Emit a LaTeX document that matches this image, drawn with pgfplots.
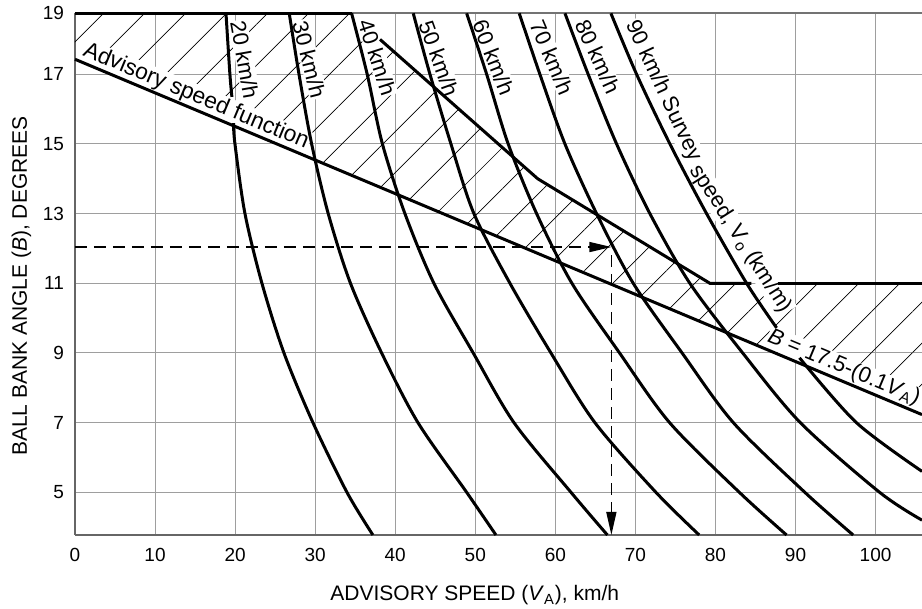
\documentclass[border=0pt]{standalone}
\usepackage{fontspec}
\setmainfont{Liberation Sans}
\usepackage{pgfplots}
\pgfplotsset{compat=1.18}
\usetikzlibrary{patterns.meta,arrows.meta}

\pgfplotsset{
  curve/.style={black, line width=1.5pt, smooth, no markers},
  edge/.style={black, line width=1.5pt, no markers},
}
\tikzset{
  lab/.style={fill=white, inner sep=0.6pt, font=\fontsize{11}{12}\selectfont},
}

\begin{document}
\begin{tikzpicture}
\useasboundingbox (-37.5pt,-37pt) rectangle (423.5pt,267.5pt);
\begin{axis}[
    scale only axis,
    width=423.5pt, height=260.85pt,
    xmin=0, xmax=105.8,
    ymin=3.774, ymax=18.75,
    xtick={0,10,...,100},
    ytick={5,7,9,11,13,15,17,18.75},
    yticklabels={5,7,9,11,13,15,17,19},
    grid=major,
    grid style={draw=black!38, line width=0.5pt},
    major tick length=0pt,
    axis x line*=bottom, axis y line*=left,
    axis line style={draw=black!60, line width=0.9pt},
    tick label style={font=\fontsize{9.5}{11}\selectfont},
    /pgf/number format/assume math mode=true,
    xticklabel style={anchor=base, yshift=-13.4pt},
    yticklabel style={xshift=-2pt},
    xlabel={ADVISORY SPEED (\textit{V}\textsubscript{A}), km/h},
    ylabel={BALL BANK ANGLE (\textit{B}), DEGREES},
    x label style={at={(axis description cs:0.472,0)}, anchor=base, yshift=-33pt,
      font=\fontsize{10.5}{12}\selectfont},
    y label style={at={(axis description cs:-0.0632,0.477)}, anchor=center,
      font=\fontsize{10.5}{12}\selectfont},
    clip=false,
  ]

  % hatched zone between the advisory speed function and the upper limit
  \addplot[draw=none, pattern={Lines[angle=45,distance=14.5pt,line width=0.35pt]}]
    coordinates {(0,17.43) (0,18.75) (34.55,18.75) (57.8,14.0) (79.3,11.0)
                 (105.8,11.0) (105.8,7.23)} -- cycle;

  % labels (white boxes sit under the curves)
  \node[lab, rotate=-80] at (axis cs:21.2,17.41) {20 km/h};
  \node[lab, rotate=-76] at (axis cs:29.25,17.43) {30 km/h};
  \node[lab, rotate=-72] at (axis cs:37.75,17.49) {40 km/h};
  \node[lab, rotate=-70] at (axis cs:45.45,17.46) {50 km/h};
  \node[lab, rotate=-68.5] at (axis cs:52.3,17.49) {60 km/h};
  \node[lab, rotate=-67] at (axis cs:59.55,17.48) {70 km/h};
  \node[lab, rotate=-65.5] at (axis cs:65.3,17.51) {80 km/h};
  \node[lab, rotate=-65] at (axis cs:73.45,16.51) {90 km/h Survey};
  \node[lab, rotate=-57.5] at (axis cs:83.15,12.27) {speed, V\textsubscript{o} (km/m)};
  \node[lab, rotate=-22.75] at (axis cs:96.05,8.57) {\textit{B} = 17.5-(0.1\textit{V}\textsubscript{A})};
  \node[lab, rotate=-22.75, font=\fontsize{11.4}{12}\selectfont] at (axis cs:15.11,16.36) {Advisory speed function};

  % top border
  \addplot[black!55, line width=0.8pt, no markers] coordinates {(0,18.75) (105.8,18.75)};

  % survey speed curves
  \addplot[curve] coordinates {(18.86,18.75) (19.35,17.0) (19.6,16.35)};
  \addplot[curve] coordinates {(19.8,15.6) (19.98,15.0) (21.23,13.0) (23.35,11.0)
    (26.10,9.0) (29.72,7.0) (33.97,5.0) (37.21,3.774)};
  \addplot[curve] coordinates {(26.76,18.75) (27.98,17.0) (29.56,15.0) (31.63,13.0)
    (34.41,11.0) (38.30,9.0) (42.84,7.0) (48.92,5.0) (52.58,3.774)};
  \addplot[curve] coordinates {(34.55,18.75) (36.5,17.0) (38.40,15.0) (41.21,13.0)
    (44.83,11.0) (49.74,9.0) (54.83,7.0) (61.95,5.0) (66.50,3.774)};
  \addplot[curve] coordinates {(42.25,18.75) (44.34,17.0) (46.96,15.0) (49.83,13.0)
    (54.33,11.0) (59.45,9.0) (64.94,7.0) (72.56,5.0) (77.97,3.774)};
  \addplot[curve] coordinates {(48.92,18.75) (51.42,17.0) (54.11,15.0) (57.66,13.0)
    (62.07,11.0) (68.02,9.0) (74.27,7.0) (82.98,5.0) (88.88,3.774)};
  \addplot[curve] coordinates {(55.49,18.75) (58.07,17.0) (61.20,15.0) (65.15,13.0)
    (69.73,11.0) (75.83,9.0) (82.23,7.0) (91.16,5.0) (97.2,3.774)};
  \addplot[curve] coordinates {(61.2,18.75) (64.1,17.0) (67.65,15.0) (71.81,13.0)
    (76.8,11.0) (83.4,9.0) (90.6,7.0) (100.5,5.0) (105.8,4.2)};
  \addplot[curve] coordinates {(66.94,18.75) (70.15,17.0) (74.31,15.0) (78.89,13.0)
    (83.89,11.0) (87.64,9.72)};
  \addplot[curve] coordinates {(90.5,8.86) (97.6,7.0) (105.8,5.6)};

  % advisory speed function
  \addplot[edge] coordinates {(0,17.43) (105.8,7.23)};

  % upper limit of the hatched zone
  \addplot[edge] coordinates {(0,18.75) (34.55,18.75)};
  \addplot[edge] coordinates {(38.1,18.0) (57.8,14.0) (79.3,11.0) (84.5,11.0)};
  \addplot[edge] coordinates {(87.8,11.0) (105.8,11.0)};

  % worked example
  \addplot[black, line width=0.7pt, dash pattern=on 6pt off 3.5pt, no markers,
    -{Triangle[length=11pt,width=5pt]}] coordinates {(0,12.04) (67.0,12.04)};
  \addplot[black, line width=0.7pt, dash pattern=on 6pt off 3.5pt, no markers,
    -{Triangle[length=11.5pt,width=5pt]}] coordinates {(67.0,11.8) (67.0,3.774)};

\end{axis}
\end{tikzpicture}
\end{document}
